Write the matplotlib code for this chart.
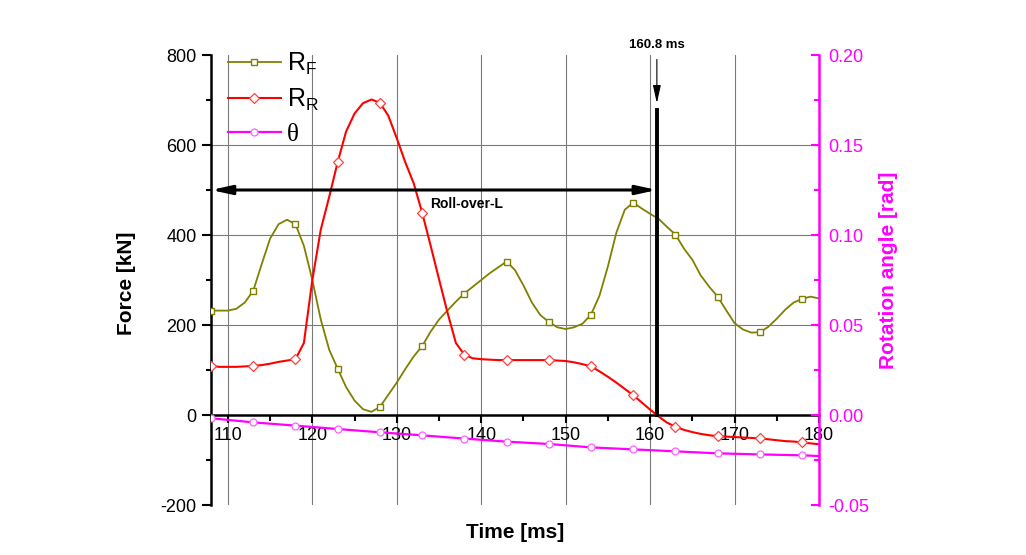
import matplotlib
matplotlib.use("Agg")
import matplotlib.pyplot as plt
from matplotlib.ticker import MultipleLocator

plt.rcParams['font.family'] = ['Liberation Sans', 'DejaVu Sans']
plt.rcParams['axes.unicode_minus'] = False

# time axis, 1 ms steps (markers every 5 ms)
time_ms = list(range(108, 181))

r_f = [232, 232, 232, 236, 250, 276, 335, 392, 424, 434,
       424, 376, 300, 212, 145, 103, 62, 32, 13, 7,
       18, 45, 72, 102, 130, 153, 185, 212, 232, 252,
       270, 285, 300, 315, 328, 341, 322, 288, 250, 222,
       207, 195, 191, 195, 203, 223, 265, 330, 405, 456,
       472, 459, 447, 436, 418, 401, 370, 345, 310, 285,
       263, 233, 204, 190, 183, 184, 196, 214, 234, 250,
       258, 263, 259]

r_r = [109, 107, 107, 107, 108, 109, 111, 114, 118, 121,
       124, 160, 300, 412, 485, 562, 630, 670, 693, 701,
       694, 665, 615, 562, 515, 450, 377, 302, 228, 160,
       134, 126, 124, 123, 122, 122, 122, 122, 122, 122,
       122, 121, 120, 117, 113, 108, 97, 85, 72, 58,
       44, 28, 12, -3, -17, -26, -33, -38, -42, -45,
       -47, -48, -49, -50, -51, -52, -54, -56, -58, -59,
       -61, -63, -65]

theta_time = [108, 113, 118, 123, 128, 133, 138, 143, 148, 153, 158, 163, 168, 173, 178, 180]
theta = [-0.0018, -0.0041, -0.0059, -0.0078, -0.0096, -0.0113, -0.0131, -0.0148,
         -0.0161, -0.0180, -0.0191, -0.0202, -0.0213, -0.0219, -0.0224, -0.0228]

t_event = 160.8

olive = '#808000'
red = '#ff0000'
mag = '#ff00ff'

fig = plt.figure(figsize=(10.26, 5.55), dpi=100)
ax = fig.add_axes([211 / 1026, 50 / 555, 608 / 1026, 450 / 555])
ax2 = ax.twinx()

ax.set_xlim(108, 180)
ax.set_ylim(-200, 800)
ax2.set_ylim(-0.05, 0.20)

# grid
ax.set_xticks(range(110, 181, 10))
ax.xaxis.set_minor_locator(MultipleLocator(5))
ax.grid(axis='x', which='major', color='#7a7a7a', lw=0.8, zorder=0)
for yv in [200, 400, 600]:
    ax.axhline(yv, color='#7a7a7a', lw=0.8, zorder=0)

l1, = ax.plot(time_ms, r_f, color=olive, lw=1.3, marker='s', ms=5, mfc='white',
              mec=olive, mew=1, markevery=5, label=r'R$\mathregular{_F}$', zorder=3,
              solid_joinstyle='round')
l2, = ax.plot(time_ms, r_r, color=red, lw=1.5, marker='D', ms=5, mfc='white',
              mec='#ff4040', mew=0.9, markevery=5, label=r'R$\mathregular{_R}$', zorder=3,
              solid_joinstyle='round')
l3, = ax2.plot(theta_time, theta, color=mag, lw=1.6, marker='o', ms=5, mfc='white',
               mec='#ff60ff', mew=0.9, markevery=list(range(15)), label='θ', zorder=3)

# event markers
ax.plot([t_event, t_event], [0, 678], color='k', lw=2.8, zorder=4)
ax.annotate('160.8 ms', xy=(t_event, 693), xytext=(t_event, 822),
            ha='center', va='center', fontsize=9.5, fontweight='bold',
            annotation_clip=False,
            arrowprops=dict(arrowstyle='-|>,head_length=0.9,head_width=0.2', color='k',
                            lw=0.8, shrinkA=4, shrinkB=0, mutation_scale=12))
ax.annotate('', xy=(108, 500), xytext=(t_event, 500),
            arrowprops=dict(arrowstyle='<|-|>,head_length=1.0,head_width=0.22', color='k',
                            lw=2.2, shrinkA=0, shrinkB=0, mutation_scale=12), zorder=4)
ax.text(138.3, 470, 'Roll-over-L', ha='center', va='center', fontsize=10, fontweight='bold')

# spines
ax.spines['top'].set_visible(False)
ax.spines['right'].set_visible(False)
ax.spines['bottom'].set_position(('data', 0))
ax.spines['bottom'].set_linewidth(1.8)
ax.spines['left'].set_linewidth(1.8)
for s in ['top', 'left', 'bottom']:
    ax2.spines[s].set_visible(False)
ax2.spines['right'].set_color(mag)
ax2.spines['right'].set_linewidth(1.8)

ax.set_yticks(range(-200, 801, 200))
ax.yaxis.set_minor_locator(MultipleLocator(100))
ax.tick_params(axis='y', which='major', direction='out', length=6.5, width=1.5, labelsize=13, pad=4)
ax.tick_params(axis='y', which='minor', direction='out', length=3.5, width=1.5)
ax.tick_params(axis='x', which='major', direction='out', length=5.5, width=1.5, labelsize=13, pad=3)
ax.tick_params(axis='x', which='minor', direction='out', length=4, width=1.5)

ax2.set_yticks([-0.05, 0.0, 0.05, 0.10, 0.15, 0.20])
ax2.set_yticklabels(['-0.05', '0.00', '0.05', '0.10', '0.15', '0.20'])
ax2.yaxis.set_minor_locator(MultipleLocator(0.025))
ax2.tick_params(axis='y', which='major', direction='in', length=6, width=1.5, colors=mag,
                labelsize=13, pad=7)
ax2.tick_params(axis='y', which='minor', direction='in', length=3.5, width=1.5, colors=mag)

# axis labels
fig.text(127 / 1026, 1 - 283 / 555, 'Force [kN]', rotation=90, ha='center', va='center',
         fontsize=15, fontweight='bold')
fig.text(888 / 1026, 1 - 270 / 555, 'Rotation angle [rad]', rotation=90, ha='center', va='center',
         fontsize=15, fontweight='bold', color=mag)
fig.text(515 / 1026, 1 - 533 / 555, 'Time [ms]', ha='center', va='center',
         fontsize=15, fontweight='bold')

leg = ax2.legend(handles=[l1, l2, l3], loc='upper left',
                 bbox_to_anchor=(228 / 1026, 1 - 51 / 555), bbox_transform=fig.transFigure,
                 frameon=False, fontsize=18, handlelength=2.1, handletextpad=0.25,
                 labelspacing=0.4, borderpad=0, borderaxespad=0)
leg.get_texts()[2].set_fontfamily(['Liberation Serif', 'DejaVu Serif'])

fig.savefig('out.png', dpi=100)
